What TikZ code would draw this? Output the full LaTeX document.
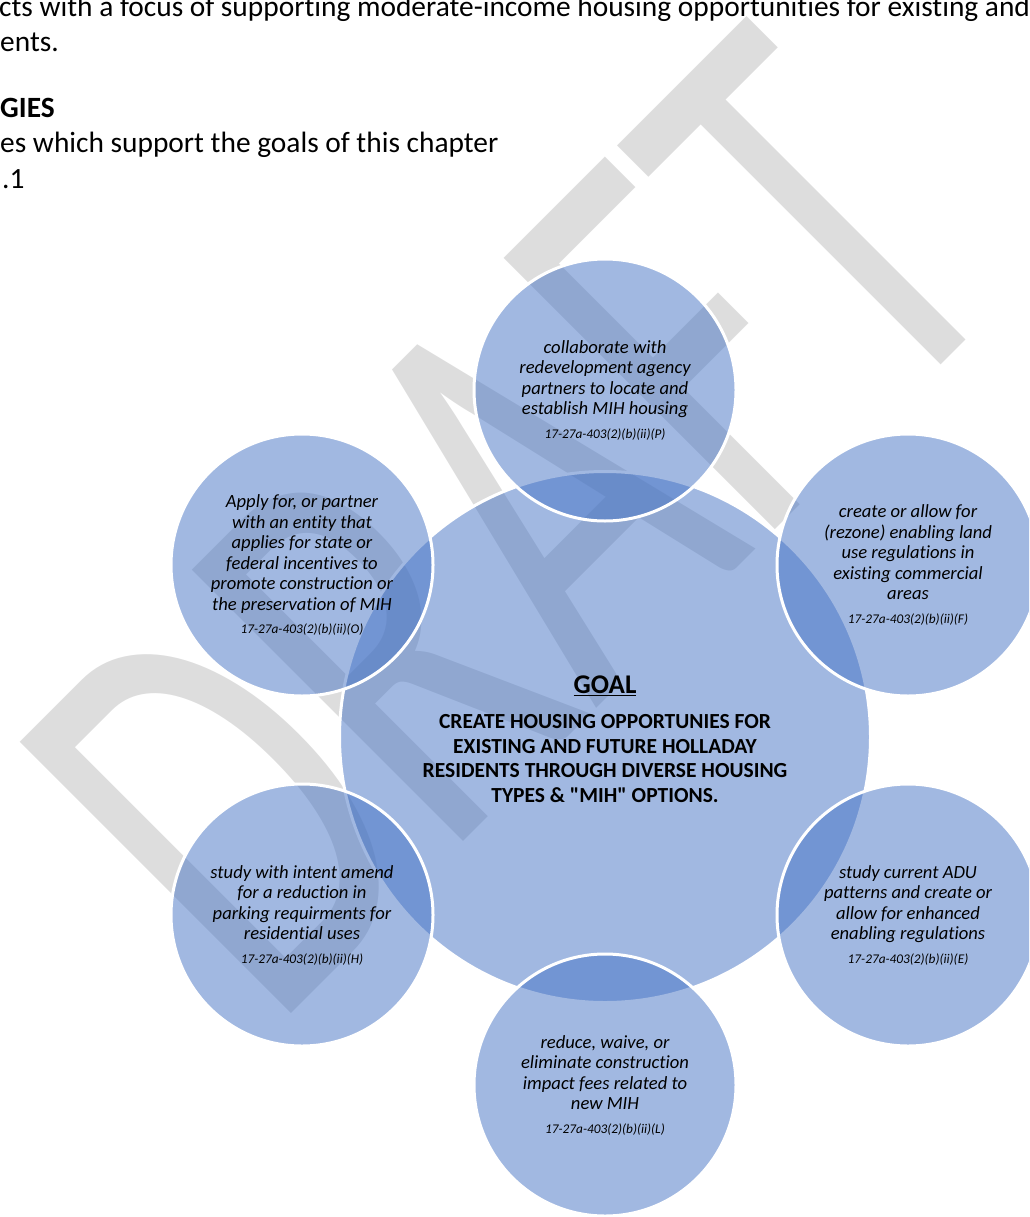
\documentclass[tikz,border=0pt]{standalone}
\usepackage{fontspec}
\setmainfont{Carlito}
\newfontfamily\carlito{Carlito}[Ligatures=NoCommon]
\usepackage{graphicx}
\definecolor{accent}{RGB}{68,114,196}
\definecolor{wmgray}{RGB}{221,221,221}
\newcommand\statref[1]{{\fontsize{13.3}{15}\selectfont #1}}
\begin{document}
\carlito
\begin{tikzpicture}[x=1pt,y=1pt,
  hub/.style={circle,fill=accent,fill opacity=0.5,draw=white,line width=3pt,minimum size=531pt,inner sep=0pt},
  spoke/.style={circle,fill=accent,fill opacity=0.5,draw=white,line width=3pt,minimum size=262pt,inner sep=0pt},
  spoketext/.style={align=center,inner sep=0pt,font=\fontsize{18.6}{20.5}\selectfont\itshape},
  goaltext/.style={align=center,inner sep=0pt,font=\fontsize{21.5}{24.5}\selectfont\bfseries},
  bodytext/.style={anchor=base west,inner sep=0pt,font=\fontsize{29.4}{35}\selectfont},
  ]
\useasboundingbox (0,0) rectangle (1029,-1217);
\clip (0,0) rectangle (1029,-1217);

% watermark, behind everything else
\node[anchor=base west,rotate=45,inner sep=0pt,text=wmgray,font=\fontsize{598}{598}\selectfont] (wm) at (272,-1033) {\scalebox{0.66}[1]{DRAFT}};

% running text of the page
\node[bodytext] (p1) at (-1,-17) {cts with a focus of supporting moderate-income housing opportunities for existing and};
\node[bodytext] (p2) at (0,-52) {ents.};
\node[bodytext,font=\fontsize{29.4}{35}\selectfont\bfseries] (p3) at (0,-118) {GIES};
\node[bodytext] (p4) at (0,-153) {es which support the goals of this chapter};
\node[bodytext] (p5) at (2,-189) {.1};

% hub and spokes
\node[hub] (hub) at (605,-737) {};
\node[spoke] (s1) at (605,-390) {};
\node[spoke] (s2) at (908,-565) {};
\node[spoke] (s3) at (908,-915) {};
\node[spoke] (s4) at (605,-1085) {};
\node[spoke] (s5) at (302,-915) {};
\node[spoke] (s6) at (302,-565) {};

\node[goaltext,font=\fontsize{27}{30}\selectfont\bfseries] (goal) at (605,-686) {\underline{GOAL}};
\node[goaltext] (aim) at (605,-758.5) {CREATE HOUSING OPPORTUNIES FOR\\EXISTING AND FUTURE HOLLADAY\\RESIDENTS THROUGH DIVERSE HOUSING\\TYPES \& "MIH" OPTIONS.};

\node[spoketext] (t1) at (s1) {collaborate with\\redevelopment agency\\partners to locate and\\establish MIH housing\\[3pt]\statref{17-27a-403(2)(b)(ii)(P)}};
\node[spoketext] (t2) at (s2) {create or allow for\\(rezone) enabling land\\use regulations in\\existing commercial\\areas\\[3pt]\statref{17-27a-403(2)(b)(ii)(F)}};
\node[spoketext] (t3) at (s3) {study current ADU\\patterns and create or\\allow for enhanced\\enabling regulations\\[3pt]\statref{17-27a-403(2)(b)(ii)(E)}};
\node[spoketext] (t4) at (s4) {reduce, waive, or\\eliminate construction\\impact fees related to\\new MIH\\[3pt]\statref{17-27a-403(2)(b)(ii)(L)}};
\node[spoketext] (t5) at (s5) {study with intent amend\\for a reduction in\\parking requirments for\\residential uses\\[3pt]\statref{17-27a-403(2)(b)(ii)(H)}};
\node[spoketext] (t6) at (s6) {Apply for, or partner\\with an entity that\\applies for state or\\federal incentives to\\promote construction or\\the preservation of MIH\\[3pt]\statref{17-27a-403(2)(b)(ii)(O)}};
\end{tikzpicture}
\end{document}
